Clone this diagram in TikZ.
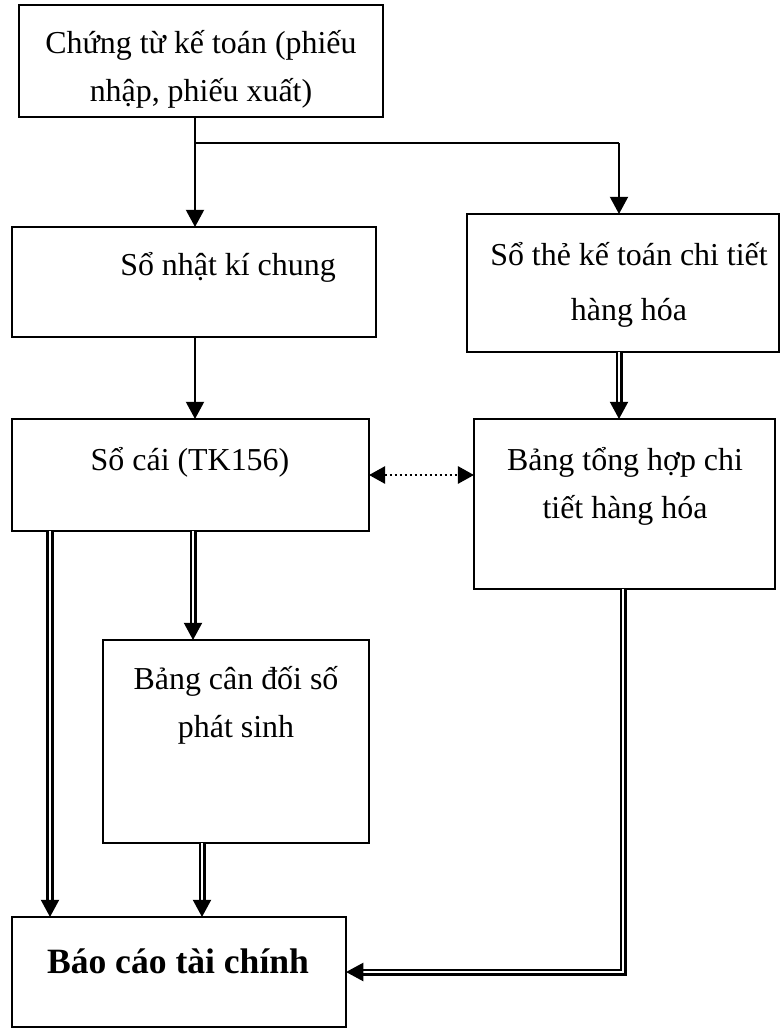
\documentclass[tikz,border=0pt]{standalone}
\usepackage{fontspec}
\setmainfont{Liberation Serif}
\usetikzlibrary{arrows.meta}

\tikzset{
  box/.style={draw, line width=0.05cm, inner sep=0pt, outer sep=0pt},
  txt/.style={font=\fontsize{22.7}{34}\selectfont, align=center, inner sep=0pt, anchor=base},
  arr/.style={line width=0.05cm, -{Triangle[length=0.43cm,width=0.45cm]}},
  darr/.style={line width=0.055cm, double, double distance=0.065cm, -{Triangle[length=0.43cm,width=0.45cm]}},
  dotarr/.style={line width=0.05cm, dash pattern=on 0.05cm off 0.075cm,
    {Triangle[length=0.4cm,width=0.43cm]}-{Triangle[length=0.4cm,width=0.43cm]}},
}

\begin{document}
\begin{tikzpicture}[x=0.025cm, y=-0.025cm]
			\useasboundingbox (0,0) rectangle (780,1028);
			
			% Boxes
			\node (ct) at (201,61) [box, minimum width=9.1cm, minimum height=2.8cm] {};
			\node (nkc) at (194,282) [box, minimum width=9.1cm, minimum height=2.75cm] {};
			\node (sothe) at (623,283) [box, minimum width=7.8cm, minimum height=3.45cm] {};
			\node (socai) at (190.5,475) [box, minimum width=8.925cm, minimum height=2.8cm] {};
			\node (bth) at (624.5,504) [box, minimum width=7.525cm, minimum height=4.25cm] {};
			\node (bcd) at (236,741.5) [box, minimum width=6.65cm, minimum height=5.075cm] {};
			\node (bctc) at (179,972) [box, minimum width=8.35cm, minimum height=2.75cm] {};
			
			% Texts (base = last line)
			\node (ct-t) at (201,101) [txt] {Chứng từ kế toán (phiếu\\nhập, phiếu xuất)};
			\node (nkc-t) at (228,275) [txt] {Sổ nhật kí chung};
			\node (sothe-t) at (629,320) [txt, font=\fontsize{22.7}{39}\selectfont] {Sổ thẻ kế toán chi tiết\\hàng hóa};
			\node (socai-t) at (190,470) [txt] {Sổ cái (TK156)};
			\node (bth-t) at (625,518) [txt] {Bảng tổng hợp chi\\tiết hàng hóa};
			\node (bcd-t) at (236,737) [txt] {Bảng cân đối số\\phát sinh};
			\node (bctc-t) at (178,973) [txt, font=\fontsize{25.3}{30}\selectfont\bfseries] {Báo cáo tài chính};
			
			% Fixed coordinates
			\coordinate (br) at (195,143);
			\coordinate (br2) at (619,143);
			\coordinate (l1) at (50,0);
			\coordinate (l2) at (193,0);
			\coordinate (l3) at (202,0);
			\coordinate (l4) at (623,0);
			
			% Single arrows
			\draw[arr] (br |- ct.south) -- (br |- nkc.north);
			\draw[line width=0.05cm] (br) -- (br2);
			\draw[arr] (br2) -- (br2 |- sothe.north);
			\draw[arr] (br |- nkc.south) -- (br |- socai.north);
			
			% Double arrows
			\draw[darr] (br2 |- sothe.south) -- (br2 |- bth.north);
			\draw[darr] (l1 |- socai.south) -- (l1 |- bctc.north);
			\draw[darr] (l2 |- socai.south) -- (l2 |- bcd.north);
			\draw[darr] (l3 |- bcd.south) -- (l3 |- bctc.north);
			\draw[darr] (l4 |- bth.south) |- (bctc.east);
			
			% Dotted link
			\draw[dotarr] (socai.east) -- (bth.west |- socai.east);
		\end{tikzpicture}
\end{document}
